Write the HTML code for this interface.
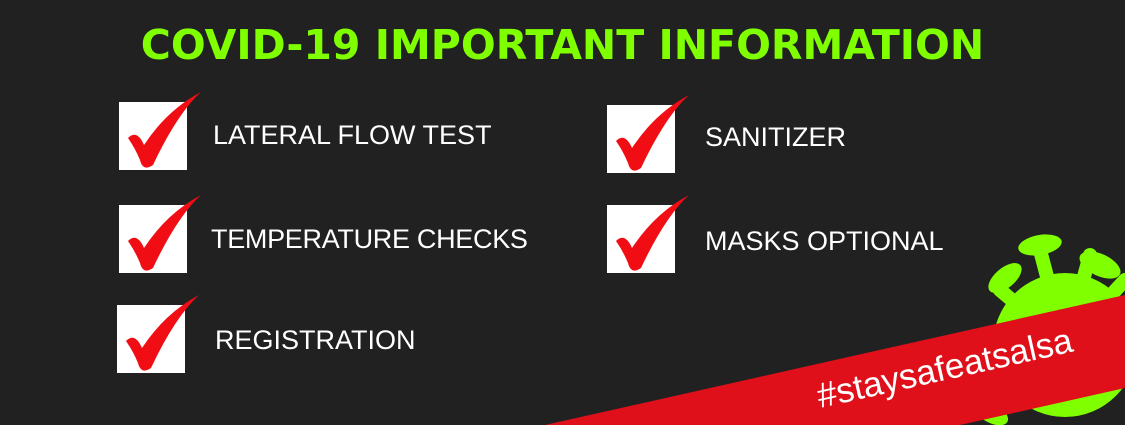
<!DOCTYPE html>
<html><head><meta charset="utf-8"><style>
body{margin:0;width:1125px;height:425px;overflow:hidden;background:#222121;font-family:"Liberation Sans",sans-serif}
.t{position:absolute;color:#fff;font-size:27px;line-height:30px;white-space:nowrap}
</style></head><body>
<svg width="1125" height="425" style="position:absolute;left:0;top:0">
<defs>
<g id="chk">
<rect x="0" y="0" width="68" height="68" fill="#fff"/>
<path d="M9,36 Q18,27 25,43 Q48,8 82,-10 Q58,12 34,63 Q24,70 21,58 Q16,46 9,36 Z" fill="#f00e14"/>
</g>
</defs>
<g fill="#7fff00">
<circle cx="1065" cy="345" r="72"/>
<g stroke="#7fff00" stroke-width="14" stroke-linecap="round">
<line x1="1065" y1="345" x2="1040" y2="250"/>
<line x1="1065" y1="345" x2="1090" y2="255"/>
<line x1="1065" y1="345" x2="1000" y2="290"/>
<line x1="1065" y1="345" x2="1125" y2="280"/>
<line x1="1065" y1="345" x2="990" y2="410"/>
</g>
<ellipse cx="1040" cy="245" rx="22" ry="10" transform="rotate(-10 1040 245)"/>
<ellipse cx="1100" cy="265" rx="22" ry="11" transform="rotate(25 1100 265)"/>
<ellipse cx="1005" cy="278" rx="20" ry="10" transform="rotate(-40 1005 278)"/>
<ellipse cx="990" cy="412" rx="20" ry="10" transform="rotate(30 990 412)"/>
</g>
<polygon points="545,425 1125,295 1125,388 960,425" fill="#e0101a"/>
<text x="820" y="408" transform="rotate(-12.6 820 408)" font-family="Liberation Sans, sans-serif" font-size="35" fill="#fff">#staysafeatsalsa</text>
<use href="#chk" x="119" y="102"/>
<use href="#chk" x="119" y="205"/>
<use href="#chk" x="117" y="305"/>
<use href="#chk" x="607" y="105"/>
<use href="#chk" x="607" y="205"/>
</svg>
<div style="position:absolute;left:0;width:1125px;top:20px;text-align:center;color:#7fff00;font-family:'DejaVu Sans',sans-serif;font-weight:bold;font-size:41px;line-height:50px;letter-spacing:0px">COVID-19 IMPORTANT INFORMATION</div>
<div class="t" style="left:213px;top:120px">LATERAL FLOW TEST</div>
<div class="t" style="left:211px;top:224px;letter-spacing:-0.3px">TEMPERATURE CHECKS</div>
<div class="t" style="left:215px;top:325px">REGISTRATION</div>
<div class="t" style="left:705px;top:122px">SANITIZER</div>
<div class="t" style="left:705px;top:226px">MASKS OPTIONAL</div>
</body></html>
